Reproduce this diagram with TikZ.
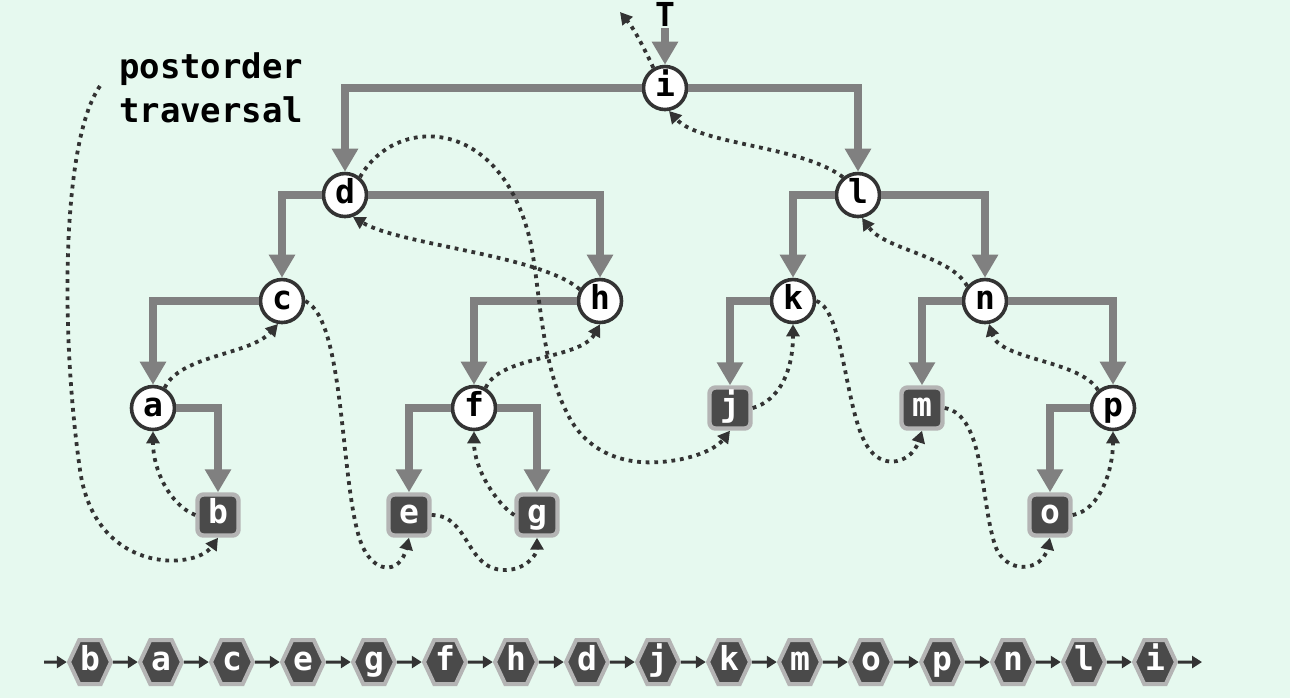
\documentclass[tikz,border=0pt]{standalone}
\usepackage{fontspec}
\setmonofont{DejaVu Sans Mono}
\usetikzlibrary{arrows.meta,shapes.symbols}

\definecolor{bgmint}{RGB}{230,249,239}
\definecolor{edgegray}{RGB}{128,128,128}
\definecolor{inkdark}{RGB}{51,51,51}
\definecolor{leafdark}{RGB}{74,74,74}
\definecolor{leafrim}{RGB}{180,180,180}

\begin{document}
\begin{tikzpicture}[
  x=0.5pt, y=-0.5pt,
  every node/.style={font=\ttfamily\bfseries\fontsize{16.5}{18}\selectfont},
  inner/.style={circle, draw=inkdark, line width=1.8pt, fill=white,
    minimum size=21.5pt, inner sep=0pt, text height=12pt, text depth=3.5pt},
  leaf/.style={rectangle, rounded corners=3pt, draw=leafrim, line width=2.2pt,
    fill=leafdark, text=white, minimum size=20.5pt, inner sep=0pt,
    text height=12pt, text depth=3.5pt},
  visit/.style={signal, signal to=east and west, signal pointer angle=130,
    draw=leafrim, line width=2pt, fill=leafdark, text=white,
    minimum height=22pt, minimum width=21pt, inner sep=0pt,
    text height=12pt, text depth=3.5pt},
  branch/.style={-{Triangle[length=11.5pt,width=12.5pt]}, line width=4pt, draw=edgegray},
  thread/.style={-{Triangle[length=6pt,width=6.5pt]}, line width=1.9pt, draw=inkdark,
    dash pattern=on 1.9pt off 2.4pt},
  link/.style={-{Triangle[length=5pt,width=6pt]}, line width=1.5pt, draw=inkdark},
]
  \fill[bgmint] (0,0) rectangle (1290,698);

  % tree
  \node[inner] (i) at (665,88)  {i};
  \node[inner] (d) at (345,195) {d};
  \node[inner] (l) at (858,195) {l};
  \node[inner] (c) at (282,301) {c};
  \node[inner] (h) at (600,301) {h};
  \node[inner] (k) at (793,301) {k};
  \node[inner] (n) at (985,301) {n};
  \node[inner] (a) at (153,408) {a};
  \node[inner] (f) at (474,408) {f};
  \node[leaf]  (j) at (730,408) {j};
  \node[leaf]  (m) at (922,408) {m};
  \node[inner] (p) at (1113,408) {p};
  \node[leaf]  (b) at (218,515) {b};
  \node[leaf]  (e) at (409,515) {e};
  \node[leaf]  (g) at (537,515) {g};
  \node[leaf]  (o) at (1050,515) {o};
  \node[inner sep=1pt] (T) at (665,14) {T};
  \node[align=left, anchor=west, font=\ttfamily\bfseries\fontsize{17}{22}\selectfont]
    (caption) at (112,88) {postorder\\traversal};

  \draw[branch] (T) -- (i);
  \draw[branch] (i) -| (d);
  \draw[branch] (i) -| (l);
  \draw[branch] (d) -| (c);
  \draw[branch] (d) -| (h);
  \draw[branch] (l) -| (k);
  \draw[branch] (l) -| (n);
  \draw[branch] (c) -| (a);
  \draw[branch] (h) -| (f);
  \draw[branch] (k) -| (j);
  \draw[branch] (n) -| (m);
  \draw[branch] (n) -| (p);
  \draw[branch] (a) -| (b);
  \draw[branch] (f) -| (e);
  \draw[branch] (f) -| (g);
  \draw[branch] (p) -| (o);

  % postorder thread
  \coordinate (tstart) at (100,86);
  \coordinate (tend) at (620,12);
  \draw[thread] (tstart) .. controls (62,140) and (60,330) .. (80,470)
    .. controls (95,575) and (195,570) .. (b.south);
  \draw[thread] (b.west) .. controls (170,505) and (153,470) .. (a.south);
  \draw[thread] (a.60) .. controls (180,355) and (250,355) .. (c.260);
  \draw[thread] (c.east) .. controls (345,320) and (340,480) .. (360,540)
    .. controls (372,575) and (400,575) .. (e.south);
  \draw[thread] (e.east) .. controls (470,515) and (465,570) .. (505,570)
    .. controls (525,570) and (537,555) .. (g.south);
  \draw[thread] (g.west) .. controls (498,505) and (474,470) .. (f.south);
  \draw[thread] (f.60) .. controls (500,355) and (580,360) .. (h.south);
  \draw[thread] (h.150) .. controls (540,255) and (400,245) .. (d.-70);
  \draw[thread] (d.50) .. controls (395,115) and (500,115) .. (530,240)
    .. controls (540,285) and (540,360) .. (567,413)
    .. controls (585,450) and (620,465) .. (660,462)
    .. controls (690,460) and (715,450) .. (j.south);
  \draw[thread] (j.east) .. controls (780,400) and (793,370) .. (k.south);
  \draw[thread] (k.east) .. controls (845,310) and (845,420) .. (870,450)
    .. controls (885,470) and (912,462) .. (m.south);
  \draw[thread] (m.east) .. controls (985,415) and (980,500) .. (995,545)
    .. controls (1005,575) and (1042,572) .. (o.south);
  \draw[thread] (o.east) .. controls (1100,510) and (1113,470) .. (p.south);
  \draw[thread] (p.130) .. controls (1080,360) and (1000,360) .. (n.-80);
  \draw[thread] (n.140) .. controls (950,255) and (885,250) .. (l.-80);
  \draw[thread] (l.130) .. controls (800,145) and (700,145) .. (i.-80);
  \draw[thread] (i.120) .. controls (645,50) and (635,30) .. (tend);

  % visiting order
  \coordinate (q0) at (44,662);
  \foreach \v [count=\k, remember=\k as \prev (initially 0)] in
      {b,a,c,e,g,f,h,d,j,k,m,o,p,n,l,i} {
    \node[visit] (q\k) at ({90+71*(\k-1)},662) {\v};
    \draw[link] (q\prev) -- (q\k);
  }
  \coordinate (q17) at (1202,662);
  \draw[link] (q16) -- (q17);
\end{tikzpicture}
\end{document}
